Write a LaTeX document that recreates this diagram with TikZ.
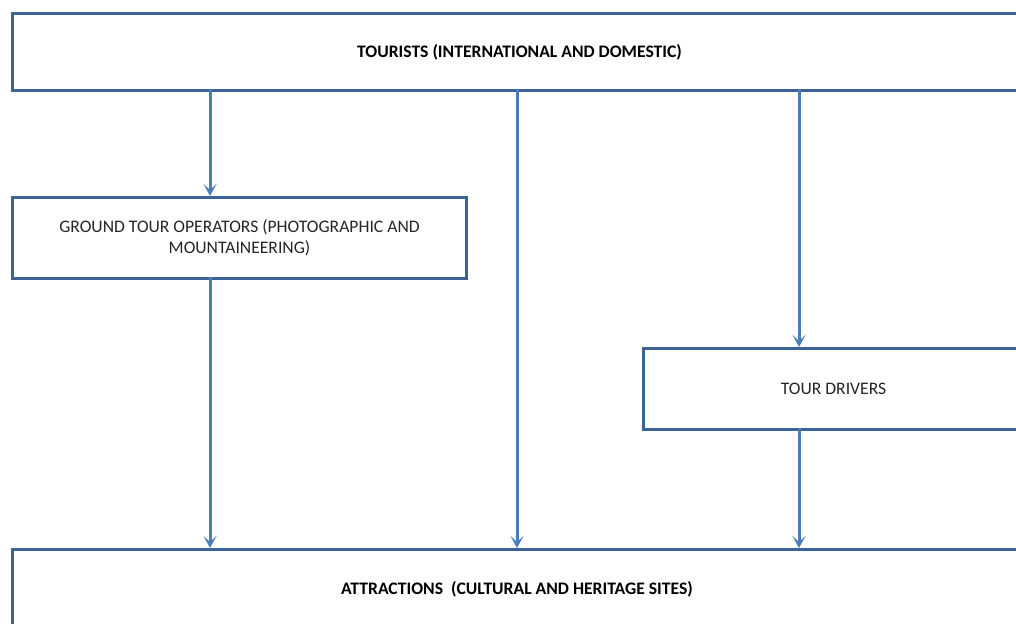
\documentclass[tikz,border=0pt]{standalone}
\usepackage{fontspec}
\setmainfont{Carlito}
\usetikzlibrary{arrows.meta}
\definecolor{boxblue}{HTML}{3B6393}
\definecolor{arrblue}{HTML}{4A7EBB}
\tikzset{
  box/.style={draw=boxblue,line width=3pt,fill=white,inner sep=0pt,anchor=north west,align=center,font=\fontsize{17.6}{21}\selectfont,text=black!85},
  arr/.style={draw=arrblue,line width=3pt,-{Stealth[length=12pt,width=13pt,inset=6pt]}}
}
\begin{document}
\begin{tikzpicture}[x=1pt,y=-1pt]
\useasboundingbox (0,0) rectangle (1016,623);
\clip (0,0) rectangle (1016,623);
\node[box,minimum width=1014pt,minimum height=77pt,font=\fontsize{17.6}{21}\selectfont\bfseries,text=black] (tour) at (11,12) {TOURISTS (INTERNATIONAL AND DOMESTIC)};
\node[box,minimum width=454pt,minimum height=81pt] (gto) at (11,196) {GROUND TOUR OPERATORS (PHOTOGRAPHIC AND\\MOUNTAINEERING)};
\node[box,minimum width=380pt,minimum height=81pt] (drv) at (642,347) {TOUR DRIVERS};
\node[box,minimum width=1012pt,minimum height=140pt] (attr) at (11,548) {};
\node[font=\fontsize{17.6}{21}\selectfont\bfseries] (attrtext) at (517,589) {ATTRACTIONS\ \ (CULTURAL AND HERITAGE SITES)};
\coordinate (t1) at (210,89);
\coordinate (t2) at (517,89);
\coordinate (t3) at (799,89);
\coordinate (g1) at (210,196);
\coordinate (g2) at (210,277);
\coordinate (d1) at (799,347);
\coordinate (d2) at (799,428);
\coordinate (a1) at (210,548);
\coordinate (a2) at (517,548);
\coordinate (a3) at (799,548);
\draw[arr] (t1) -- (g1);
\draw[arr] (t2) -- (a2);
\draw[arr] (t3) -- (d1);
\draw[arr] (g2) -- (a1);
\draw[arr] (d2) -- (a3);
\end{tikzpicture}
\end{document}
